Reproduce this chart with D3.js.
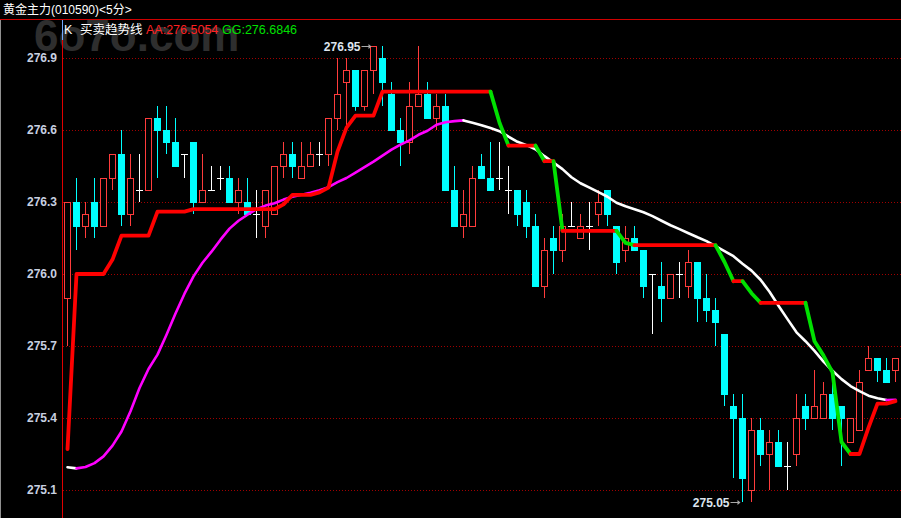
<!DOCTYPE html>
<html><head><meta charset="utf-8">
<script src="https://cdn.jsdelivr.net/npm/d3@7"></script>
<style>
html,body{margin:0;padding:0;background:#000;overflow:hidden}
svg{display:block}
</style></head><body>
<svg id="c" width="901" height="518"></svg>
<script>
const titleText = "黄金主力(010590)<5分>";
const indicatorPrefix = "K";
const indicatorName = "买卖趋势线";
const legendAA = "AA:276.5054";
const legendGG = "GG:276.6846";
const watermark = "6o7o.com";
const yTicks = [275.1, 275.4, 275.7, 276.0, 276.3, 276.6, 276.9];

const opens  = [275.90,276.30,276.20,276.30,276.20,276.40,276.50,276.25,276.35,276.35,
                276.65,276.60,276.55,276.50,276.55,276.30,276.35,276.40,276.40,276.30,
                276.30,276.25,276.20,276.25,276.45,276.50,276.40,276.45,276.50,276.50,
                276.65,276.80,276.85,276.70,276.85,276.90,276.75,276.60,276.55,276.70,
                276.75,276.65,276.70,276.35,276.20,276.20,276.45,276.40,276.40,276.35,
                276.35,276.30,276.20,275.95,276.15,276.10,276.20,276.15,276.20,276.25,
                276.35,276.20,276.10,276.15,276.10,276.00,275.95,275.90,276.00,275.95,
                276.05,275.90,275.85,275.75,275.45,275.40,275.10,275.35,275.25,275.30,
                275.20,275.25,275.45,275.40,275.40,275.50,275.45,275.30,275.35,275.60,
                275.65,275.60,275.60];
const highs  = [276.30,276.40,276.30,276.40,276.40,276.50,276.60,276.50,276.50,276.65,
                276.70,276.70,276.65,276.50,276.55,276.50,276.45,276.45,276.45,276.40,
                276.40,276.35,276.35,276.45,276.55,276.55,276.55,276.55,276.55,276.65,
                276.90,276.90,276.85,276.85,276.95,276.95,276.80,276.65,276.80,276.95,
                276.80,276.75,276.75,276.45,276.35,276.45,276.50,276.55,276.55,276.45,
                276.35,276.35,276.25,276.15,276.20,276.25,276.30,276.25,276.30,276.35,
                276.35,276.20,276.20,276.20,276.10,276.00,276.05,276.00,276.05,276.10,
                276.05,276.00,275.90,275.75,275.50,275.50,275.40,275.40,275.35,275.35,
                275.30,275.50,275.50,275.60,275.55,275.55,275.45,275.40,275.60,275.70,
                275.65,275.65,275.65];
const lows   = [275.70,276.10,276.15,276.15,276.20,276.35,276.20,276.20,276.30,276.35,
                276.40,276.50,276.45,276.40,276.25,276.30,276.35,276.35,276.30,276.25,
                276.25,276.15,276.15,276.25,276.40,276.40,276.40,276.45,276.45,276.45,
                276.60,276.60,276.68,276.68,276.75,276.70,276.60,276.45,276.50,276.70,
                276.65,276.60,276.35,276.20,276.15,276.20,276.40,276.35,276.35,276.25,
                276.20,276.15,275.95,275.90,276.00,276.05,276.20,276.15,276.10,276.20,
                276.20,276.00,276.05,276.10,275.90,275.75,275.80,275.90,275.90,275.90,
                275.80,275.80,275.70,275.45,275.15,275.05,275.05,275.20,275.10,275.20,
                275.10,275.20,275.35,275.40,275.40,275.35,275.20,275.30,275.35,275.60,
                275.55,275.55,275.55];
const closes = [276.30,276.20,276.25,276.20,276.40,276.50,276.25,276.40,276.35,276.65,
                276.60,276.55,276.45,276.50,276.30,276.35,276.35,276.40,276.30,276.35,
                276.25,276.25,276.35,276.45,276.50,276.45,276.45,276.50,276.50,276.65,
                276.75,276.85,276.70,276.85,276.95,276.80,276.60,276.55,276.70,276.75,
                276.65,276.70,276.35,276.20,276.25,276.40,276.40,276.35,276.40,276.35,
                276.25,276.20,275.95,276.10,276.10,276.20,276.20,276.20,276.20,276.30,
                276.25,276.05,276.15,276.10,275.95,276.00,275.90,276.00,276.00,276.05,
                275.90,275.85,275.80,275.50,275.40,275.15,275.35,275.25,275.30,275.20,
                275.20,275.40,275.40,275.45,275.50,275.40,275.40,275.40,275.55,275.65,
                275.60,275.55,275.65];
const aaLine = [275.27,276.00,276.00,276.00,276.00,276.06,276.16,276.16,276.16,276.16,
                276.26,276.26,276.26,276.26,276.27,276.27,276.27,276.27,276.27,276.27,
                276.27,276.27,276.27,276.27,276.29,276.33,276.33,276.33,276.34,276.36,
                276.51,276.61,276.66,276.66,276.66,276.76,276.76,276.76,276.76,276.76,
                276.76,276.76,276.76,276.76,276.76,276.76,276.76,276.76,276.63,276.535,
                276.535,276.535,276.535,276.47,276.47,276.18,276.18,276.18,276.18,276.18,
                276.18,276.18,276.13,276.12,276.12,276.12,276.12,276.12,276.12,276.12,
                276.12,276.12,276.12,276.05,275.97,275.97,275.92,275.88,275.88,275.88,
                275.88,275.88,275.88,275.72,275.66,275.59,275.30,275.25,275.25,275.36,
                275.46,275.46,275.47];
const ggLine = [275.195,275.19,275.196,275.212,275.24,275.285,275.344,275.428,275.525,275.604,
                275.664,275.747,275.835,275.918,275.99,276.047,276.093,276.143,276.189,276.222,
                276.247,276.27,276.285,276.295,276.31,276.322,276.33,276.339,276.349,276.362,
                276.383,276.40,276.422,276.445,276.468,276.493,276.518,276.539,276.557,276.58,
                276.597,276.622,276.632,276.637,276.640,276.63,276.62,276.608,276.595,276.572,
                276.551,276.537,276.52,276.491,276.464,276.437,276.403,276.378,276.36,276.341,
                276.322,276.297,276.282,276.27,276.257,276.241,276.222,276.203,276.187,276.17,
                276.153,276.137,276.116,276.095,276.074,276.043,276.014,275.976,275.926,275.868,
                275.812,275.757,275.72,275.68,275.635,275.597,275.562,275.533,275.512,275.493,
                275.482,275.475,275.476];

const W = 901, H = 518;
const n = opens.length;
const svg = d3.select("#c");
const FONT = "'Liberation Sans', Arial, 'Noto Sans CJK SC', sans-serif";

svg.append("rect").attr("width", W).attr("height", H).attr("fill", "#000");

// watermark
svg.append("text").attr("x", 34).attr("y", 51).text(watermark)
  .attr("font-family", FONT).attr("font-weight", "bold").attr("font-size", 44)
  .attr("fill", "#2e2e2e");

const x = d3.scaleBand().domain(d3.range(n)).range([63, 63 + 9 * n]);
const cx = i => x(i) + x.bandwidth() / 2;
const y = d3.scaleLinear().domain([275.1, 276.9]).range([490, 58]);

// grid lines
const grid = d3.axisRight(y).tickValues(yTicks).tickSize(W - 63).tickFormat("");
const gg = svg.append("g").attr("transform", "translate(63,0)").call(grid);
gg.select(".domain").remove();
gg.selectAll(".tick line").attr("stroke", "#a00000").attr("stroke-dasharray", "1,2");

// y axis labels
const yAxis = d3.axisLeft(y).tickValues(yTicks).tickSize(0).tickPadding(5).tickFormat(d3.format(".1f"));
const ya = svg.append("g").attr("transform", "translate(62,0)").call(yAxis);
ya.select(".domain").remove();
ya.selectAll(".tick text").attr("fill", "#c8d0e0").attr("font-family", FONT)
  .attr("font-weight", "bold").attr("font-size", 12);

// left border & axis line
svg.append("line").attr("x1", 0.5).attr("x2", 0.5).attr("y1", 20).attr("y2", H).attr("stroke", "#909090");
svg.append("line").attr("x1", 62.5).attr("x2", 62.5).attr("y1", 20).attr("y2", H).attr("stroke", "#e00000");
svg.append("line").attr("x1", 62.5).attr("x2", 62.5).attr("y1", 20).attr("y2", 40).attr("stroke", "#70a8ff");

// header
svg.append("line").attr("x1", 0).attr("x2", W).attr("y1", 19.5).attr("y2", 19.5).attr("stroke", "#d00000");
svg.append("text").attr("x", 3).attr("y", 14).text(titleText)
  .attr("font-family", FONT).attr("font-size", 12).attr("fill", "#ffffff");
const hdr = [
  {t: indicatorPrefix, x: 64, c: "#ffffff"},
  {t: indicatorName, x: 80, c: "#ffffff"},
  {t: legendAA, x: 146, c: "#ff2020"},
  {t: legendGG, x: 222, c: "#00e000"}
];
svg.selectAll("text.hdr").data(hdr).enter().append("text").attr("class", "hdr")
  .attr("x", d => d.x).attr("y", 34).text(d => d.t)
  .attr("font-family", FONT).attr("font-size", 12.5).attr("fill", d => d.c);

// candles
const UP = "#ff3c3c", DOWN = "#00ffff", DOJI = "#ffffff";
const cg = svg.append("g");
d3.range(n).forEach(i => {
  const o = opens[i], c = closes[i], h = highs[i], l = lows[i];
  const xc = cx(i);
  const bw = x.bandwidth() - 2;
  if (c > o) {
    if (h > c) cg.append("line").attr("x1", xc).attr("x2", xc).attr("y1", y(h)).attr("y2", y(c)).attr("stroke", UP);
    if (l < o) cg.append("line").attr("x1", xc).attr("x2", xc).attr("y1", y(o)).attr("y2", y(l)).attr("stroke", UP);
    cg.append("rect").attr("x", x(i) + 1.5).attr("y", y(c) + 0.5)
      .attr("width", bw - 1).attr("height", y(o) - y(c))
      .attr("fill", "#000").attr("stroke", UP);
  } else if (c < o) {
    cg.append("line").attr("x1", xc).attr("x2", xc).attr("y1", y(h)).attr("y2", y(l)).attr("stroke", DOWN);
    cg.append("rect").attr("x", x(i) + 1).attr("y", y(o))
      .attr("width", bw).attr("height", y(c) - y(o) + 1).attr("fill", DOWN);
  } else {
    cg.append("line").attr("x1", xc).attr("x2", xc).attr("y1", y(h)).attr("y2", y(l)).attr("stroke", DOJI);
    cg.append("line").attr("x1", x(i) + 1).attr("x2", x(i) + 1 + bw).attr("y1", y(o) + 0.5).attr("y2", y(o) + 0.5).attr("stroke", DOJI);
  }
});

// colored polylines
function drawColored(values, upColor, downColor, width) {
  const runs = [];
  for (let i = 1; i < values.length; i++) {
    const col = values[i] < values[i - 1] ? downColor : upColor;
    const last = runs[runs.length - 1];
    if (last && last.col === col) last.pts.push(i);
    else runs.push({col, pts: [i - 1, i]});
  }
  const line = d3.line().x(i => cx(i)).y(i => y(values[i]));
  svg.append("g").selectAll("path").data(runs).enter().append("path")
    .attr("d", r => line(r.pts)).attr("fill", "none")
    .attr("stroke", r => r.col).attr("stroke-width", width)
    .attr("stroke-linejoin", "round").attr("stroke-linecap", "round");
}
drawColored(ggLine, "#ff00ff", "#ffffff", 2.6);
drawColored(aaLine, "#ff0000", "#00e000", 3.8);

// max / min annotations
const hiIdx = d3.maxIndex(highs), loIdx = d3.minIndex(lows);
function annotate(i, v) {
  const xc = cx(i), yy = y(v);
  svg.append("text").attr("x", xc - 13).attr("y", yy + 4.5).attr("text-anchor", "end")
    .text(d3.format(".2f")(v)).attr("font-family", FONT).attr("font-weight", "bold")
    .attr("font-size", 12).attr("fill", "#dde4ee");
  svg.append("line").attr("x1", xc - 12).attr("x2", xc - 3).attr("y1", yy + 0.5).attr("y2", yy + 0.5).attr("stroke", "#a8a8a8");
  svg.append("path").attr("d", `M${xc - 2},${yy + 0.5}L${xc - 5},${yy - 2}L${xc - 5},${yy + 3}Z`).attr("fill", "#a8a8a8");
}
annotate(hiIdx, highs[hiIdx]);
annotate(loIdx, lows[loIdx]);
</script>
</body></html>
